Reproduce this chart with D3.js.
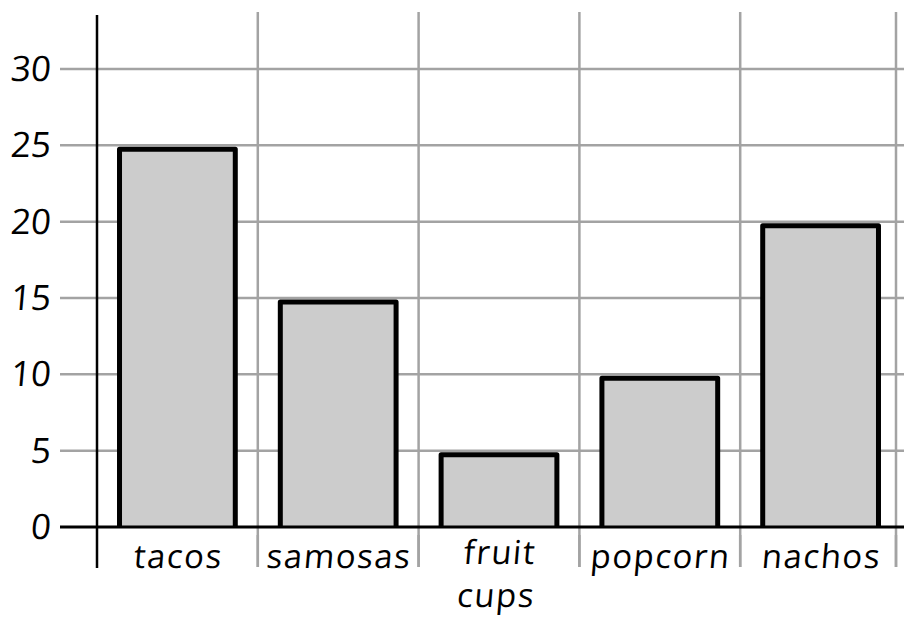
<!DOCTYPE html>
<html>
<head>
<meta charset="utf-8">
<script src="https://cdn.jsdelivr.net/npm/d3@7"></script>
<style>
  html, body { margin: 0; padding: 0; background: #fff; }
  svg { display: block; }
  text { font-family: "Open Sans", "Noto Sans", sans-serif; fill: #000; }
</style>
</head>
<body>
<svg id="chart" width="904" height="620"></svg>
<script>
// ---- data ----
const categories = ["tacos", "samosas", "fruit cups", "popcorn", "nachos"];
const labelLines = [["tacos"], ["samosas"], ["fruit", "cups"], ["popcorn"], ["nachos"]];
const values = [25, 15, 5, 10, 20];
const yTicks = [0, 5, 10, 15, 20, 25, 30];

// ---- layout ----
const W = 904, H = 620;
const axisX = 97, baseY = 527;
const svg = d3.select("#chart");

const x = d3.scaleBand().domain(categories).range([axisX, 901]).paddingInner(0).paddingOuter(0);
const y = d3.scaleLinear().domain([0, 30]).range([baseY, 69]);

const grid = "#a3a3a3";

// horizontal gridlines (extend left as tick marks)
svg.append("g").selectAll("line").data(yTicks.filter(d => d > 0)).join("line")
  .attr("x1", 60).attr("x2", W)
  .attr("y1", d => y(d)).attr("y2", d => y(d))
  .attr("stroke", grid).attr("stroke-width", 2.5);

// vertical gridlines at band boundaries
const bounds = categories.map(c => Math.min(x(c) + x.bandwidth(), 896));
svg.append("g").selectAll("line").data(bounds).join("line")
  .attr("x1", d => d).attr("x2", d => d)
  .attr("y1", 12).attr("y2", 567)
  .attr("stroke", grid).attr("stroke-width", 2.5);

// bars
const barW = x.bandwidth() * 0.72;
const sw = 5;
svg.append("g").selectAll("rect").data(values).join("rect")
  .attr("x", (d, i) => x(categories[i]) + (x.bandwidth() - barW) / 2)
  .attr("y", d => y(d) + 4)
  .attr("width", barW)
  .attr("height", d => baseY - y(d) - 4 + sw)
  .attr("fill", "#cccccc")
  .attr("stroke", "#000")
  .attr("stroke-width", sw)
  .attr("stroke-linejoin", "round");

// white-out below baseline (bar bottoms hidden under axis)
svg.append("rect").attr("x", axisX + 2).attr("y", baseY + 1).attr("width", W).attr("height", 7).attr("fill", "#fff");

// re-draw vertical gridline segments below baseline
svg.append("g").selectAll("line").data(bounds).join("line")
  .attr("x1", d => d).attr("x2", d => d)
  .attr("y1", baseY).attr("y2", 567)
  .attr("stroke", grid).attr("stroke-width", 2.5);

// x baseline
svg.append("line").attr("x1", 60).attr("x2", W).attr("y1", baseY).attr("y2", baseY)
  .attr("stroke", "#000").attr("stroke-width", 3);

// y axis
svg.append("line").attr("x1", axisX).attr("x2", axisX).attr("y1", 15).attr("y2", 568)
  .attr("stroke", "#000").attr("stroke-width", 2.5);

// y tick labels
svg.append("g").selectAll("text").data(yTicks).join("text")
  .attr("transform", d => `translate(50,${y(d) + 12}) skewX(-5)`)
  .attr("text-anchor", "end")
  .attr("font-size", 35)
  .text(d => d);

// x labels
const lbl = svg.append("g").selectAll("text").data(labelLines).join("text")
  .attr("transform", (d, i) => `translate(${x(categories[i]) + x.bandwidth() / 2},${d.length > 1 ? 564 : 568}) skewX(-5)`)
  .attr("text-anchor", "middle")
  .attr("font-size", 33)
  .attr("letter-spacing", 1.5);
lbl.selectAll("tspan").data(d => d).join("tspan")
  .attr("x", 0).attr("dy", (d, j) => j === 0 ? 0 : 43)
  .text(d => d);
</script>
</body>
</html>
